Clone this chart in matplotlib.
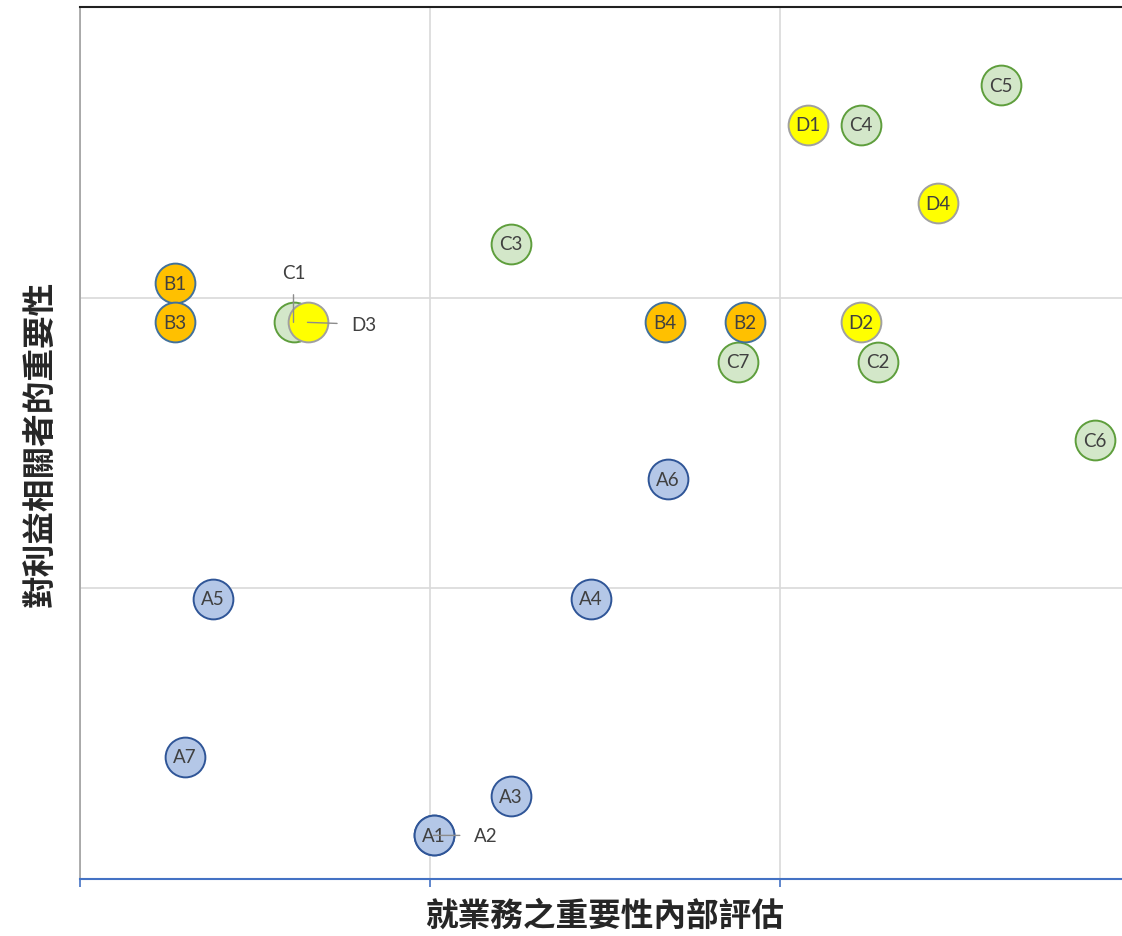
"""
Materiality matrix scatter
"""

import numpy as np
import matplotlib.pyplot as plt

# points per group: name, x (internal business importance), y (stakeholder importance)
a_names = ['A1', 'A2', 'A3', 'A4', 'A5', 'A6', 'A7']
a_x = [1.01, 1.01, 1.23, 1.46, 0.38, 1.68, 0.30]
a_y = [0.15, 0.15, 0.285, 0.965, 0.965, 1.375, 0.42]

b_names = ['B1', 'B2', 'B3', 'B4']
b_x = [0.27, 1.90, 0.27, 1.67]
b_y = [2.05, 1.915, 1.915, 1.915]

c_names = ['C1', 'C2', 'C3', 'C4', 'C5', 'C6', 'C7']
c_x = [0.61, 2.28, 1.23, 2.23, 2.63, 2.90, 1.88]
c_y = [1.915, 1.78, 2.185, 2.595, 2.73, 1.51, 1.78]

d_names = ['D1', 'D2', 'D3', 'D4']
d_x = [2.08, 2.23, 0.65, 2.45]
d_y = [2.595, 1.915, 1.915, 2.325]

xlabel = '就業務之重要性內部評估'
ylabel = '對利益相關者的重要性'

# labels that sit off the bubble with a leader line: name -> (dx, dy) in pixels
offset_labels = {'A2': (52, 0), 'C1': (0, 50), 'D3': (56, -2)}

cjk = ['Noto Sans CJK TC', 'DejaVu Sans']
txt_font = ['Lato', 'DejaVu Sans']
txt_col = '#404040'

fig = plt.figure(figsize=(11.22, 9.37), dpi=100)
ax = fig.add_axes([80/1122, 57/937, 1050/1122, 872/937])

ax.set_xlim(0, 3)
ax.set_ylim(0, 3)

groups = [
    (c_names, c_x, c_y, '#D3E7C9', '#5E9E3C'),
    (b_names, b_x, b_y, '#FFC000', '#41719C'),
    (d_names, d_x, d_y, '#FFFF00', '#A0A0A0'),
    (a_names, a_x, a_y, '#B4C7E7', '#2F5597'),
]

z = 3
for names, xs, ys, fc, ec in groups:
    for n, x, y in zip(names, xs, ys):
        ax.scatter([x], [y], s=820, c=fc, edgecolors=ec, linewidths=1.4, zorder=z)
        if n in offset_labels:
            dx, dy = offset_labels[n]
            ax.annotate(n, xy=(x, y), xytext=(dx * 0.72, dy * 0.72), textcoords='offset points',
                        ha='center', va='center', fontsize=13.5, color=txt_col, family=txt_font,
                        zorder=z + 2,
                        arrowprops=dict(arrowstyle='-', color='#8C8C8C', lw=1,
                                        shrinkA=8, shrinkB=0))
        else:
            ax.text(x, y, n, ha='center', va='center', fontsize=13.5, color=txt_col,
                    family=txt_font, zorder=z + 1)
        z += 0.01

ax.set_xticks([0, 1, 2, 3])
ax.set_yticks([1, 2])
ax.set_xticklabels([])
ax.set_yticklabels([])
ax.grid(True, color='#D9D9D9', linewidth=1.2, zorder=0)
ax.set_axisbelow(True)
ax.tick_params(axis='x', direction='out', length=6, width=1.2, color='#4472C4')
ax.tick_params(axis='y', length=0)

ax.spines['bottom'].set_color('#4472C4')
ax.spines['bottom'].set_linewidth(1.5)
ax.spines['top'].set_color('#202020')
ax.spines['top'].set_linewidth(1.5)
ax.spines['left'].set_color('#A0A0A0')
ax.spines['left'].set_linewidth(1.2)
ax.spines['right'].set_visible(False)

ax.set_xlabel(xlabel, fontsize=23.5, fontweight='bold', family=cjk, color='#262626', labelpad=5)
ax.set_ylabel(ylabel, fontsize=23.5, fontweight='bold', family=cjk, color='#262626', labelpad=13)

plt.savefig('out.png', dpi=100)
